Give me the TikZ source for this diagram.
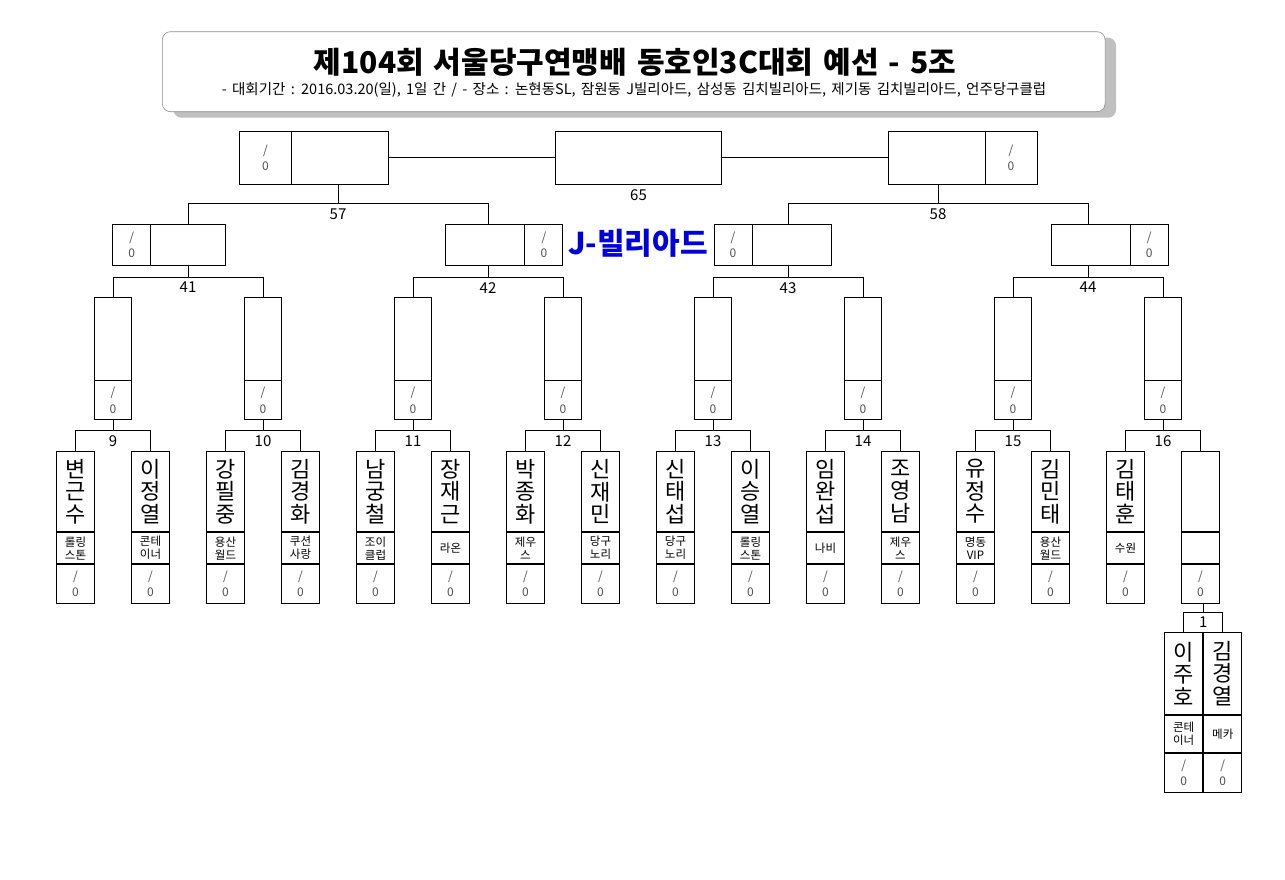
\documentclass[tikz,border=0pt]{standalone}
\usepackage{fontspec}
\setmainfont{Noto Sans CJK KR}
\usepackage{xcolor}
\definecolor{lineDark}{HTML}{000000}
\definecolor{scoreGray}{HTML}{505050}
\definecolor{frameGray}{HTML}{8C8C8C}
\definecolor{shadowGray}{HTML}{C0C0C0}
\definecolor{venueBlue}{HTML}{0000DD}
\usepackage{tikz}
\usetikzlibrary{shapes,positioning,calc,shadows}

\newcommand{\titleFont}{\fontsize{30}{32}\selectfont\bfseries\spaceskip=10pt\relax}
\newcommand{\subFont}{\fontsize{14.5}{16}\selectfont\spaceskip=5.3pt\relax}
\newcommand{\nameFont}{\fontsize{22}{22.5}\selectfont}
\newcommand{\clubFont}{\fontsize{11.5}{13}\selectfont}
\newcommand{\scoreFont}{\fontsize{12}{16.5}\selectfont}
\newcommand{\joinPair}[4]{%
  \draw[bracketLine] #2 -- ++(0,-20) coordinate (#1-l) -| #3 coordinate (#1-r);
  \coordinate (#1-c) at ($(#1-l)!.5!(#1-r |- #1-l)$);
  \draw[bracketLine] (#1-c) -- (#1-c |- #1.south);
  \node[matchNum] (#1-n) at (#1-c) {#4};
}

\tikzset{%
  titleBox/.style={%
    rectangle,
    rounded corners=8pt,
    draw=frameGray,
    fill=white,
    line width=0.6pt,
    minimum width=942.7pt,
    minimum height=80pt,
    drop shadow={shadow xshift=11pt, shadow yshift=-6pt, fill=shadowGray, opacity=1}
  },
  titleText/.style={font=\titleFont},
  subText/.style={font=\subFont},
  venueText/.style={font=\fontsize{30}{32}\selectfont\bfseries, text=venueBlue},
  cellBox/.style={%
    rectangle,
    draw=lineDark,
    inner sep=0pt,
    align=center
  },
  nameCell/.style={cellBox, minimum width=37.6pt, minimum height=80.6pt, font=\nameFont},
  clubCell/.style={cellBox, minimum width=37.6pt, minimum height=31pt, font=\clubFont},
  scoreCell/.style={cellBox, minimum width=37.6pt, minimum height=39pt, font=\scoreFont, text=scoreGray},
  winCell/.style={cellBox, minimum width=37pt, minimum height=82.2pt},
  quarterBox/.style={cellBox, minimum width=117pt, minimum height=41pt},
  semiBox/.style={cellBox, minimum width=149pt, minimum height=53pt},
  finalBox/.style={cellBox, minimum width=166pt, minimum height=53pt},
  bracketLine/.style={draw=lineDark},
  matchNum/.style={%
    font=\fontsize{15}{15}\selectfont,
    anchor=north,
    inner sep=0pt,
    yshift=-4.5pt
  }
}

\begin{document}
\begin{tikzpicture}[x=1pt, y=-1pt, line width=0.9pt]
\useasboundingbox (0,0) rectangle (1285,879);

% title
\node[titleBox] (frame) at (633.7,71.7) {};
\node[titleText] (ttl) at (635,62) {제104회 서울당구연맹배 동호인3C대회 예선 - 5조};
\node[subText] (sub) at (634,90) {- 대회기간 : 2016.03.20(일), 1일 간 / - 장소 : 논현동SL, 잠원동 J빌리아드, 삼성동 김치빌리아드, 제기동 김치빌리아드, 언주당구클럽};

% players
\foreach \k/\nm/\cl in {1/변\\근\\수/롤링\\스톤, 2/이\\정\\열/콘테\\이너, 3/강\\필\\중/용산\\월드,
  4/김\\경\\화/쿠션\\사랑, 5/남\\궁\\철/조이\\클럽, 6/장\\재\\근/라온, 7/박\\종\\화/제우\\스,
  8/신\\재\\민/당구\\노리, 9/신\\태\\섭/당구\\노리, 10/이\\승\\열/롤링\\스톤, 11/임\\완\\섭/나비,
  12/조\\영\\남/제우\\스, 13/유\\정\\수/명동\\VIP, 14/김\\민\\태/용산\\월드, 15/김\\태\\훈/수원, 16//}
{
  \node[nameCell, anchor=north] (p\k) at (75*\k+0.5,450.7) {\nm};
  \node[clubCell, below=0pt of p\k] (c\k) {\cl};
  \node[scoreCell, below=0pt of c\k] (s\k) {/\\0};
}

\node[nameCell, minimum width=38.5pt, minimum height=81.7pt, anchor=north east] (e1) at (1203.3,632.3) {이\\주\\호};
\node[clubCell, minimum width=38.5pt, minimum height=37.3pt, below=0pt of e1] (e1c) {콘테\\이너};
\node[scoreCell, minimum width=38.5pt, minimum height=38.7pt, below=0pt of e1c] (e1s) {/\\0};
\node[nameCell, minimum width=38pt, minimum height=81.7pt, anchor=north west] (e2) at (1203.3,632.3) {김\\경\\열};
\node[clubCell, minimum width=38pt, minimum height=37.3pt, below=0pt of e2] (e2c) {메카};
\node[scoreCell, minimum width=38pt, minimum height=38.7pt, below=0pt of e2c] (e2s) {/\\0};

% round of 16 winners
\foreach \k in {9,...,16}
{
  \node[winCell, anchor=north] (m\k) at (150*\k-1237,297.3) {};
  \node[scoreCell, minimum width=37pt, minimum height=38.5pt, below=0pt of m\k] (t\k) {/\\0};
}

% quarter winners
\node[quarterBox, minimum width=113pt, anchor=west] (m41) at (112.3,244.8) {};
\node[scoreCell, minimum width=38pt, minimum height=41pt, anchor=west] (m41s) at (m41.west) {/\\0};
\node[quarterBox, anchor=east] (m42) at (563.3,244.8) {};
\node[scoreCell, minimum width=38pt, minimum height=41pt, anchor=east] (m42s) at (m42.east) {/\\0};
\node[venueText] (venue) at (638,243) {J-빌리아드};
\node[quarterBox, anchor=west] (m43) at (713.5,244.8) {};
\node[scoreCell, minimum width=38pt, minimum height=41pt, anchor=west] (m43s) at (m43.west) {/\\0};
\node[quarterBox, anchor=east] (m44) at (1168.6,244.8) {};
\node[scoreCell, minimum width=38pt, minimum height=41pt, anchor=east] (m44s) at (m44.east) {/\\0};

% semi winners and final
\node[semiBox] (m57) at (314,157.7) {};
\node[scoreCell, minimum width=52pt, minimum height=53pt, anchor=west] (m57s) at (m57.west) {/\\0};
\node[finalBox] (m65) at (638.5,157.7) {};
\node[semiBox] (m58) at (962.5,157.7) {};
\node[scoreCell, minimum width=52pt, minimum height=53pt, anchor=east] (m58s) at (m58.east) {/\\0};

% brackets
\foreach \m/\a/\b in {9/1/2,10/3/4,11/5/6,12/7/8,13/9/10,14/11/12,15/13/14,16/15/16}
  {\joinPair{t\m}{(p\a.north)}{(p\b.north)}{\m}}
\joinPair{m41}{(m9.north)}{(m10.north)}{41}
\joinPair{m42}{(m11.north)}{(m12.north)}{42}
\joinPair{m43}{(m13.north)}{(m14.north)}{43}
\joinPair{m44}{(m15.north)}{(m16.north)}{44}
\joinPair{m57}{(m41-c |- m41.north)}{(m42-c |- m42.north)}{57}
\joinPair{m58}{(m43-c |- m43.north)}{(m44-c |- m44.north)}{58}
\joinPair{s16}{(e1.north)}{(e2.north)}{1}
\draw[bracketLine] (m57.east) -- (m65.west);
\draw[bracketLine] (m65.east) -- (m58.west);
\node[matchNum] (n65) at (m65.south) {65};
\end{tikzpicture}
\end{document}
